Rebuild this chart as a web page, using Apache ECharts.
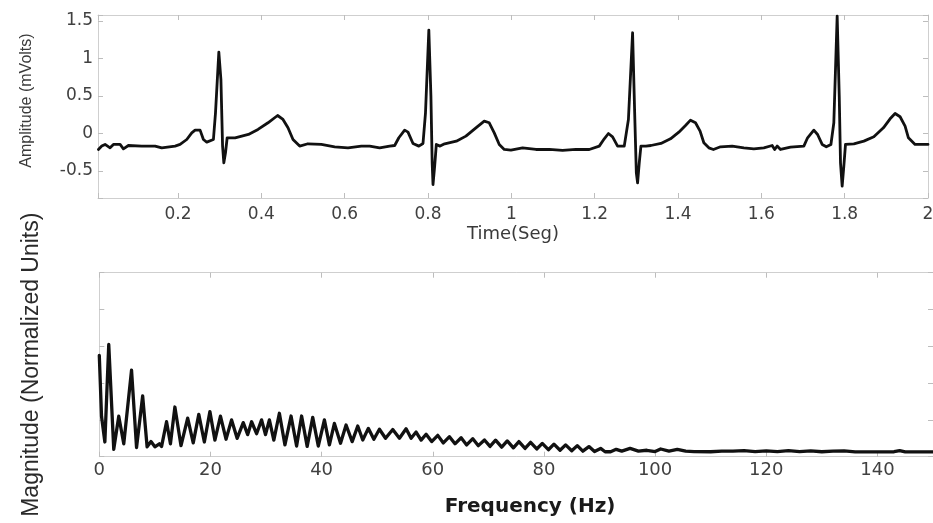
<!DOCTYPE html>
<html><head><meta charset="utf-8">
<script src="https://cdn.jsdelivr.net/npm/echarts@6/dist/echarts.min.js"></script>
<style>html,body{margin:0;padding:0;background:#fff}#c{width:933px;height:523px}</style>
</head><body><div id="c"></div>
<script>
// ECG trace (time in s, amplitude in mV)
const ecgTime = [
 0.009,0.017,0.025,0.037,0.045,0.061,0.069,0.081,0.113,0.145,0.161,0.193,0.205,0.221,0.233,0.241,0.253,0.261,0.269,0.285,
 0.290,0.298,0.303,0.307,0.310,0.314,0.318,0.337,0.369,0.392,0.416,0.439,0.452,0.464,0.476,0.492,0.512,0.544,0.576,0.608,0.640,
 0.660,0.684,0.708,0.720,0.730,0.744,0.752,0.764,0.778,0.788,0.794,0.802,0.807,0.810,0.812,0.816,0.820,0.829,0.840,0.868,0.891,
 0.915,0.935,0.947,0.959,0.971,0.983,0.999,1.027,1.059,1.091,1.123,1.155,1.187,1.211,1.223,1.233,1.243,1.255,1.271,1.281,1.291,
 1.296,1.300,1.303,1.307,1.311,1.323,
 1.335,1.359,1.382,1.402,1.418,1.430,1.442,1.453,1.462,1.474,1.485,1.502,1.530,1.558,1.582,1.606,1.626,1.632,1.638,1.646,1.670,
 1.702,1.711,1.726,1.735,1.746,1.756,1.767,1.774,1.782,1.787,1.790,1.794,1.798,1.802,1.822,1.846,1.870,1.893,1.909,1.921,1.933,
 1.945,1.953,1.969,2.000
];
const ecgAmp = [
 -0.213,-0.168,-0.146,-0.191,-0.146,-0.146,-0.204,-0.160,-0.168,-0.168,-0.191,-0.168,-0.146,-0.080,0.009,0.045,0.045,-0.080,-0.115,-0.080,
 0.276,1.085,0.720,-0.168,-0.391,-0.257,-0.057,-0.057,-0.013,0.054,0.143,0.240,0.187,0.076,-0.080,-0.168,-0.137,-0.146,-0.177,-0.191,-0.168,
 -0.168,-0.191,-0.168,-0.160,-0.057,0.045,0.018,-0.133,-0.168,-0.133,0.276,1.378,0.498,-0.391,-0.680,-0.435,-0.146,-0.168,-0.137,-0.102,-0.035,
 0.076,0.165,0.143,0.009,-0.146,-0.213,-0.222,-0.191,-0.213,-0.213,-0.226,-0.213,-0.213,-0.168,-0.071,0.000,-0.044,-0.168,-0.168,0.187,1.343,
 0.276,-0.524,-0.657,-0.391,-0.168,-0.168,
 -0.160,-0.133,-0.071,0.018,0.107,0.178,0.143,0.032,-0.124,-0.191,-0.213,-0.177,-0.168,-0.191,-0.204,-0.191,-0.160,-0.213,-0.168,-0.213,-0.182,
 -0.168,-0.057,0.045,-0.013,-0.146,-0.177,-0.146,0.143,1.565,0.498,-0.391,-0.702,-0.435,-0.146,-0.137,-0.102,-0.044,0.076,0.196,0.267,0.223,
 0.098,-0.057,-0.146,-0.146
];
// Spectrum (frequency in Hz, normalized magnitude)
const specFreq = [
 0,0.4,1.0,1.7,2.6,3.5,4.4,5.8,6.7,7.8,8.6,9.3,10.0,10.8,11.2,12.1,12.8,13.6,14.7,15.9,16.9,17.9,18.9,19.9,20.8,21.8,22.8,23.8,24.8,25.9,
 26.7,27.4,28.3,29.2,29.9,30.6,31.4,32.4,33.4,34.5,35.5,36.4,37.4,38.4,39.4,40.5,41.4,42.3,43.4,44.4,45.5,46.5,47.4,48.4,49.4,50.4,51.5,
 52.8,54.0,55.2,56.1,57.0,57.9,58.8,59.8,60.9,61.9,63.0,64.0,65.1,66.1,67.2,68.2,69.3,70.3,71.3,72.4,73.4,74.5,75.5,76.6,77.6,78.7,
 79.7,80.8,81.8,82.9,83.9,85.0,86.0,87.0,88.1,89.1,90.2,91.0,92.0,93.0,94.0,95.5,97.0,98.5,100.0,101.0,102.5,104.0,105.5,107.0,110.0,
 112.0,114.0,116.0,118.0,120.0,122.0,124.0,126.0,128.0,130.0,132.0,134.0,136.0,140.0,143.0,144.0,145.0,150.0
];
const specMag = [
 0.55,0.22,0.08,0.61,0.04,0.22,0.07,0.47,0.05,0.33,0.054,0.082,0.054,0.07,0.055,0.19,0.07,0.27,0.06,0.21,0.075,0.23,0.08,0.245,0.09,0.22,0.095,0.20,0.10,0.185,
 0.12,0.19,0.125,0.20,0.12,0.20,0.09,0.236,0.064,0.221,0.058,0.221,0.056,0.214,0.058,0.20,0.064,0.181,0.073,0.172,0.082,0.167,0.091,0.154,0.095,0.149,0.10,
 0.148,0.10,0.152,0.10,0.134,0.09,0.122,0.082,0.116,0.075,0.109,0.07,0.103,0.064,0.098,0.06,0.091,0.056,0.09,0.052,0.086,0.048,0.082,0.045,0.078,0.042,
 0.072,0.038,0.068,0.035,0.064,0.032,0.06,0.03,0.055,0.028,0.045,0.027,0.027,0.04,0.03,0.045,0.03,0.035,0.028,0.042,0.03,0.04,0.03,0.028,0.027,
 0.03,0.03,0.033,0.028,0.032,0.028,0.033,0.028,0.032,0.027,0.03,0.032,0.026,0.026,0.027,0.033,0.026,0.026
];
const timeTicks = [0.2,0.4,0.6,0.8,1,1.2,1.4,1.6,1.8,2];
const ampTicks = [-0.5,0,0.5,1,1.5];
const freqTicks = [0,20,40,60,80,100,120,140];

const isTick = (list, v) => list.some(t => Math.abs(t - v) < 1e-6);
const fmt = v => String(+v.toFixed(2));

const frameColor = '#cfcfcf';
const tickStyle = { show: true, inside: true, length: 5, lineStyle: { color: '#bdbdbd', width: 1 } };
const lineAxis = { show: true, onZero: false, lineStyle: { color: frameColor, width: 1 } };
const labelFont = { fontFamily: 'DejaVu Sans', fontSize: 17, color: '#404040' };

const chart = echarts.init(document.getElementById('c'));
chart.setOption({
  animation: false,
  backgroundColor: '#fff',
  grid: [
    { left: 98, right: 5, top: 15, height: 183, containLabel: false, outerBoundsMode: 'none' },
    { left: 99.3, right: 0, top: 272.7, height: 184, containLabel: false, outerBoundsMode: 'none' }
  ],
  xAxis: [
    { type: 'value', gridIndex: 0, position: 'bottom', min: 0.008, max: 2, splitNumber: 10,
      axisLine: lineAxis, axisTick: tickStyle, splitLine: { show: false },
      axisLabel: Object.assign({ margin: 8, formatter: v => isTick(timeTicks, v) ? fmt(v) : '' }, labelFont),
      name: 'Time(Seg)', nameLocation: 'middle', nameGap: 27,
      nameTextStyle: { fontFamily: 'DejaVu Sans', fontSize: 18, color: '#3a3a3a' } },
    { type: 'value', gridIndex: 0, position: 'top', min: 0.008, max: 2, splitNumber: 10,
      axisLine: lineAxis, axisTick: tickStyle, splitLine: { show: false }, axisLabel: { show: false } },
    { type: 'value', gridIndex: 1, position: 'bottom', min: 0, max: 150, interval: 20,
      axisLine: lineAxis, axisTick: tickStyle, splitLine: { show: false },
      axisLabel: Object.assign({ margin: 5, formatter: v => isTick(freqTicks, v) ? String(v) : '' }, labelFont, { fontSize: 18 }),
      name: 'Frequency (Hz)', nameLocation: 'middle', nameGap: 40,
      nameTextStyle: { fontFamily: 'DejaVu Sans', fontWeight: 'bold', fontSize: 20, color: '#1a1a1a', padding: [0, 0, 0, 28] } },
    { type: 'value', gridIndex: 1, position: 'top', min: 0, max: 150, interval: 20,
      axisLine: lineAxis, axisTick: tickStyle, splitLine: { show: false }, axisLabel: { show: false } }
  ],
  yAxis: [
    { type: 'value', gridIndex: 0, position: 'left', min: -0.86, max: 1.58, splitNumber: 5,
      axisLine: lineAxis, axisTick: tickStyle, splitLine: { show: false },
      axisLabel: Object.assign({ margin: 5, formatter: v => isTick(ampTicks, v) ? fmt(v) : '' }, labelFont),
      name: 'Amplitude (mVolts)', nameLocation: 'middle', nameGap: 63,
      nameTextStyle: { fontFamily: 'Liberation Sans', fontSize: 16, color: '#3a3a3a', padding: [0, 0, 0, 12] } },
    { type: 'value', gridIndex: 0, position: 'right', min: -0.86, max: 1.58, splitNumber: 5,
      axisLine: lineAxis, axisTick: tickStyle, splitLine: { show: false }, axisLabel: { show: false } },
    { type: 'value', gridIndex: 1, position: 'left', min: 0, max: 1, interval: 0.2,
      axisLine: lineAxis, axisTick: tickStyle, splitLine: { show: false }, axisLabel: { show: false },
      name: 'Magnitude (Normalized Units)', nameLocation: 'middle', nameGap: 56,
      nameTextStyle: { fontFamily: 'Liberation Sans', fontSize: 23, color: '#2a2a2a' } },
    { type: 'value', gridIndex: 1, position: 'right', min: 0, max: 1, interval: 0.2,
      axisLine: lineAxis, axisTick: tickStyle, splitLine: { show: false }, axisLabel: { show: false } }
  ],
  series: [
    { type: 'line', xAxisIndex: 0, yAxisIndex: 0, showSymbol: false, symbol: 'none',
      lineStyle: { color: '#111', width: 2.8, cap: 'round', join: 'round' },
      data: ecgTime.map((t, i) => [t, ecgAmp[i]]) },
    { type: 'line', xAxisIndex: 2, yAxisIndex: 2, showSymbol: false, symbol: 'none',
      lineStyle: { color: '#111', width: 3.3, cap: 'round', join: 'round' },
      data: specFreq.map((f, i) => [f, specMag[i]]) }
  ]
});
</script>
</body></html>
